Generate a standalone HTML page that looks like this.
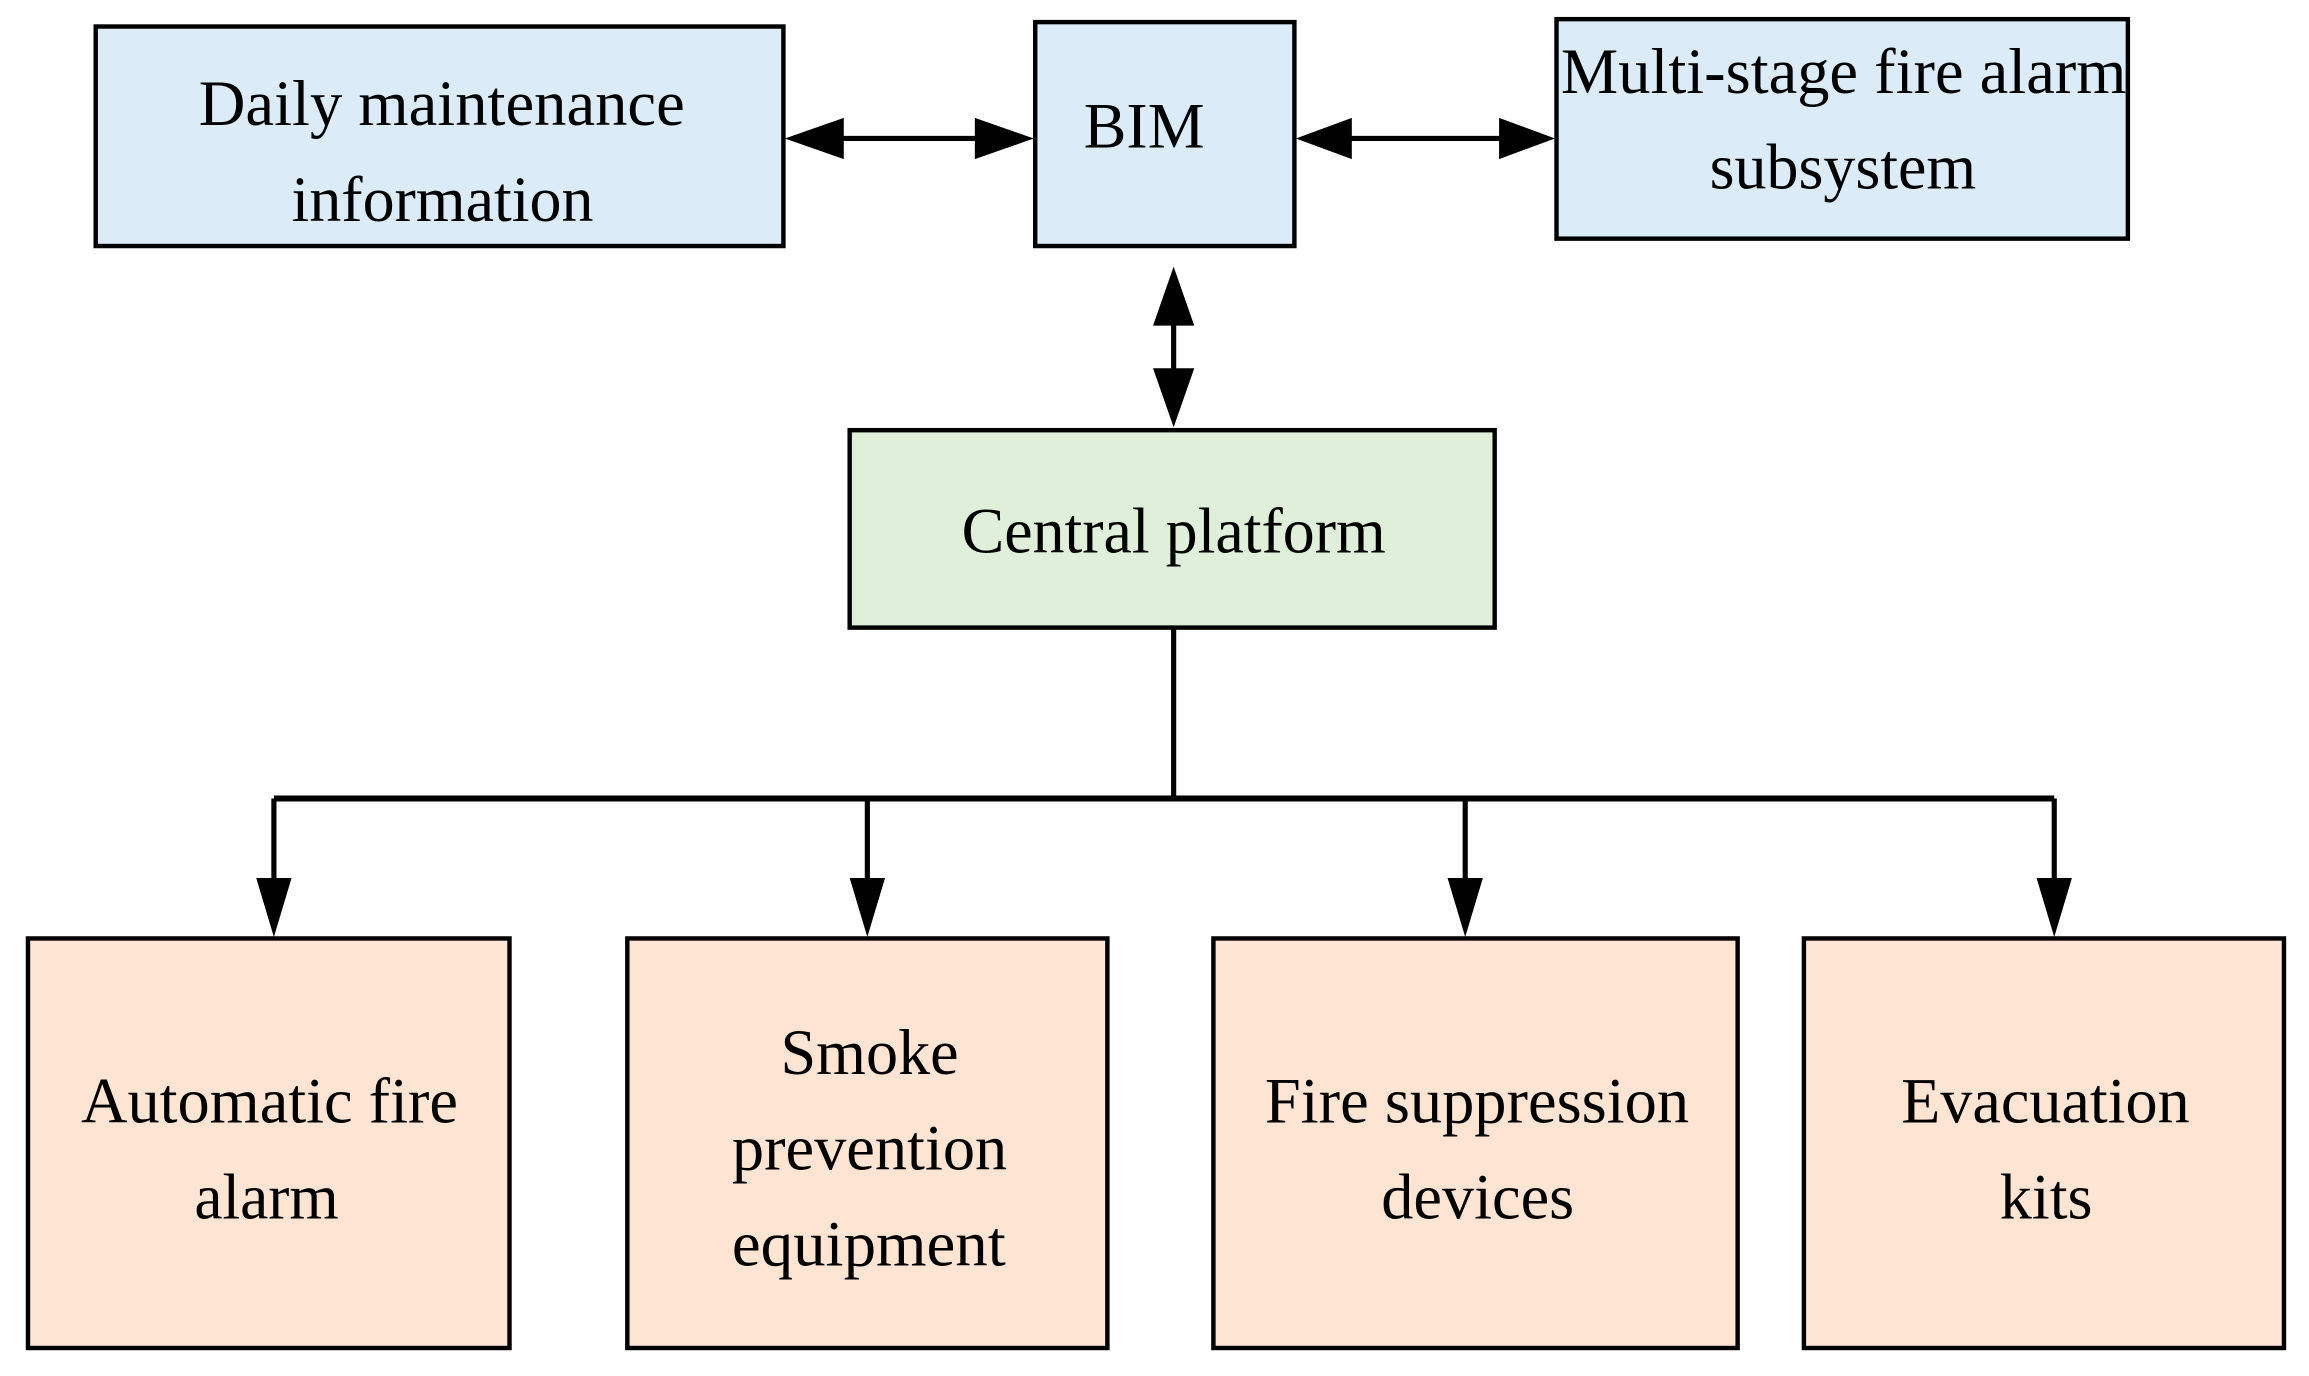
<!DOCTYPE html>
<html><head><meta charset="utf-8"><style>html,body{margin:0;padding:0;background:#fff}svg{display:block}</style></head>
<body>
<svg width="2309" height="1376" viewBox="0 0 1568 934" preserveAspectRatio="none" xmlns="http://www.w3.org/2000/svg">
<g stroke="#000" stroke-width="3">
<rect x="65" y="18" width="467" height="149" fill="#dbebf7"/>
<rect x="703" y="15" width="176" height="152" fill="#dbebf7"/>
<rect x="1057" y="13" width="388" height="149" fill="#dbebf7"/>
<rect x="577" y="292" width="438" height="134" fill="#dfefd9"/>
<rect x="19" y="637" width="327" height="278" fill="#fde4d3"/>
<rect x="426" y="637" width="326" height="278" fill="#fde4d3"/>
<rect x="824" y="637" width="356" height="278" fill="#fde4d3"/>
<rect x="1225" y="637" width="326" height="278" fill="#fde4d3"/>
</g>
<g stroke="#000" stroke-width="3.5" fill="none">
<line x1="560" y1="94" x2="675" y2="94"/>
<line x1="905" y1="94" x2="1030" y2="94"/>
<line x1="797" y1="210" x2="797" y2="262"/>
<line x1="797" y1="426" x2="797" y2="544"/>
<line x1="186" y1="542" x2="1395" y2="542" stroke-width="4"/>
<line x1="186" y1="542" x2="186" y2="600"/>
<line x1="589" y1="542" x2="589" y2="600"/>
<line x1="995" y1="542" x2="995" y2="600"/>
<line x1="1395" y1="542" x2="1395" y2="600"/>
</g>
<g fill="#000">
<polygon points="533,94 573,80 573,108"/>
<polygon points="702,94 662,80 662,108"/>
<polygon points="880,94 918,80 918,108"/>
<polygon points="1056,94 1018,80 1018,108"/>
<polygon points="797,181 783,221 811,221"/>
<polygon points="797,290 783,250 811,250"/>
<polygon points="186,636 174,596 198,596"/>
<polygon points="589,636 577,596 601,596"/>
<polygon points="995,636 983,596 1007,596"/>
<polygon points="1395,636 1383,596 1407,596"/>
</g>
<g font-family="'Liberation Serif', serif" font-size="44" fill="#000">
<text x="135" y="85" textLength="330" lengthAdjust="spacingAndGlyphs">Daily maintenance</text>
<text x="198" y="150" textLength="205" lengthAdjust="spacingAndGlyphs">information</text>
<text x="736" y="100" textLength="82" lengthAdjust="spacingAndGlyphs">BIM</text>
<text x="1060" y="63" textLength="384" lengthAdjust="spacingAndGlyphs">Multi-stage fire alarm</text>
<text x="1161" y="128" textLength="181" lengthAdjust="spacingAndGlyphs">subsystem</text>
<text x="653" y="375" textLength="288" lengthAdjust="spacingAndGlyphs">Central platform</text>
<text x="55" y="762" textLength="256" lengthAdjust="spacingAndGlyphs">Automatic fire</text>
<text x="132" y="827" textLength="98" lengthAdjust="spacingAndGlyphs">alarm</text>
<text x="530" y="729" textLength="121" lengthAdjust="spacingAndGlyphs">Smoke</text>
<text x="497" y="794" textLength="187" lengthAdjust="spacingAndGlyphs">prevention</text>
<text x="497" y="859" textLength="186" lengthAdjust="spacingAndGlyphs">equipment</text>
<text x="859" y="762" textLength="288" lengthAdjust="spacingAndGlyphs">Fire suppression</text>
<text x="938" y="827" textLength="131" lengthAdjust="spacingAndGlyphs">devices</text>
<text x="1291" y="762" textLength="196" lengthAdjust="spacingAndGlyphs">Evacuation</text>
<text x="1358" y="827" textLength="63" lengthAdjust="spacingAndGlyphs">kits</text>
</g>
</svg>
</body></html>
